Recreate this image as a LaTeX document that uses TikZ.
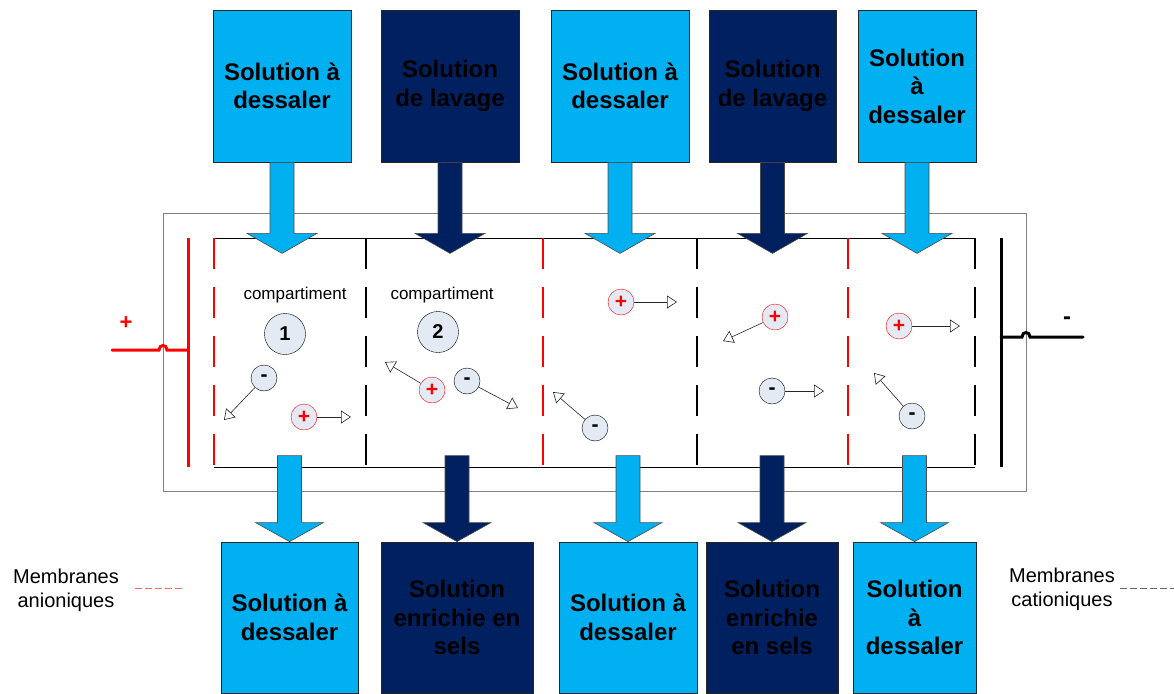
\documentclass[tikz,border=0pt]{standalone}
\usepackage{fontspec}
\setmainfont{Liberation Sans}
\usetikzlibrary{arrows.meta}
\definecolor{clair}{HTML}{00B0F0}
\definecolor{fonce}{HTML}{002060}
\definecolor{ionfond}{HTML}{E4EAF4}
\begin{document}
\begin{tikzpicture}[x=1pt,y=-1pt,
	bac/.style={draw=black!85, line width=0.8pt, inner sep=0pt, align=center, minimum height=152pt, font=\fontsize{24}{28.5}\selectfont\bfseries},
	bas/.style={bac, minimum height=151pt},
	fleche/.style={draw=black!70, line width=0.6pt},
	anion/.style={circle, draw=black, fill=ionfond, minimum size=26pt, inner sep=0pt, font=\fontsize{21}{21}\selectfont\bfseries},
	cation/.style={anion, draw=red, text=red},
	numero/.style={circle, draw=black, fill=ionfond, minimum size=41pt, inner sep=0pt, font=\fontsize{20}{20}\selectfont\bfseries},
	move/.style={draw=black!85, line width=0.6pt, -{Triangle[fill=white, length=10pt, width=13pt]}},
	anionique/.style={red, line width=1.5pt, dash pattern=on 31pt off 18pt},
	cationique/.style={black, line width=1.5pt, dash pattern=on 31pt off 18pt},
	legende/.style={align=center, font=\fontsize{20}{24}\selectfont}]
	\useasboundingbox (0,0) rectangle (1174,693);
	\draw[black!50, line width=1pt] (163,213) rectangle (1026,491);
	\draw[line width=1pt] (214,238) -- (975,238) (214,467) -- (975,467);
	\draw[anionique] (214,238) -- (214,467);
	\draw[anionique] (543,238) -- (543,467);
	\draw[anionique] (848,238) -- (848,467);
	\draw[cationique] (366,238) -- (366,467);
	\draw[cationique] (697,238) -- (697,467);
	\draw[cationique] (975,238) -- (975,467);
	\draw[red, line width=3pt] (188,238) -- (188,467);
	\draw[red, line width=3pt, line cap=round] (112,350) -- (159,350) .. controls (159,344) and (167,344) .. (167,350) -- (188,350);
	\draw[line width=3pt] (1001,238) -- (1001,467);
	\draw[line width=3pt, line cap=round] (1001,337) -- (1022,337) .. controls (1022,331) and (1030,331) .. (1030,337) -- (1083,337);
	\node[red, font=\fontsize{22}{22}\selectfont\bfseries] (plus) at (126,323) {+};
	\node[font=\fontsize{24}{24}\selectfont\bfseries] (moins) at (1067,321) {-};
	\node[bac, fill=clair, minimum width=138pt] (t1) at (282,86) {Solution à\\dessaler};
	\node[bac, fill=fonce, minimum width=138pt] (t2) at (450,86) {Solution\\de lavage};
	\node[bac, fill=clair, minimum width=138pt] (t3) at (620,86) {Solution à\\dessaler};
	\node[bac, fill=fonce, minimum width=127pt] (t4) at (772.5,86) {Solution\\de lavage};
	\node[bac, fill=clair, minimum width=118pt] (t5) at (917,86) {Solution\\à\\dessaler};
	\node[bas, fill=clair, minimum width=137pt] (b1) at (289.5,617.5) {Solution à\\dessaler};
	\node[bas, fill=fonce, minimum width=152pt] (b2) at (457,617.5) {Solution\\enrichie en\\sels};
	\node[bas, fill=clair, minimum width=138pt] (b3) at (628,617.5) {Solution à\\dessaler};
	\node[bas, fill=fonce, minimum width=132pt] (b4) at (772,617.5) {Solution\\enrichie\\en sels};
	\node[bas, fill=clair, minimum width=123pt] (b5) at (914.5,617.5) {Solution\\à\\dessaler};
	\draw[fleche, fill=clair] (t1.south) ++(-12,0) -- ++(0,71) -- ++(-23,0) -- ++(35,20) -- ++(35,-20) -- ++(-23,0) -- ++(0,-71) -- cycle;
	\draw[fleche, fill=fonce] (t2.south) ++(-12,0) -- ++(0,71) -- ++(-23,0) -- ++(35,20) -- ++(35,-20) -- ++(-23,0) -- ++(0,-71) -- cycle;
	\draw[fleche, fill=clair] (t3.south) ++(-12,0) -- ++(0,71) -- ++(-23,0) -- ++(35,20) -- ++(35,-20) -- ++(-23,0) -- ++(0,-71) -- cycle;
	\draw[fleche, fill=fonce] (t4.south) ++(-12,0) -- ++(0,71) -- ++(-23,0) -- ++(35,20) -- ++(35,-20) -- ++(-23,0) -- ++(0,-71) -- cycle;
	\draw[fleche, fill=clair] (t5.south) ++(-12,0) -- ++(0,71) -- ++(-23,0) -- ++(35,20) -- ++(35,-20) -- ++(-23,0) -- ++(0,-71) -- cycle;
	\draw[fleche, fill=clair] (b1.north) -- ++(-34,-19) -- ++(22,0) -- ++(0,-67) -- ++(24,0) -- ++(0,67) -- ++(22,0) -- cycle;
	\draw[fleche, fill=fonce] (b2.north) -- ++(-34,-19) -- ++(22,0) -- ++(0,-67) -- ++(24,0) -- ++(0,67) -- ++(22,0) -- cycle;
	\draw[fleche, fill=clair] (b3.north) -- ++(-34,-19) -- ++(22,0) -- ++(0,-67) -- ++(24,0) -- ++(0,67) -- ++(22,0) -- cycle;
	\draw[fleche, fill=fonce] (b4.north) -- ++(-34,-19) -- ++(22,0) -- ++(0,-67) -- ++(24,0) -- ++(0,67) -- ++(22,0) -- cycle;
	\draw[fleche, fill=clair] (b5.north) -- ++(-34,-19) -- ++(22,0) -- ++(0,-67) -- ++(24,0) -- ++(0,67) -- ++(22,0) -- cycle;
	\node[font=\fontsize{17}{17}\selectfont] (k1) at (295,295) {compartiment};
	\node[font=\fontsize{17}{17}\selectfont] (k2) at (442,295) {compartiment};
	\node[numero] (n1) at (285,334) {1};
	\node[numero] (n2) at (438,332) {2};
	\node[anion] (a1) at (264,378) {-};
	\node[cation] (c1) at (304,417) {+};
	\node[cation] (c2) at (432,390) {+};
	\node[anion] (a2) at (467,381) {-};
	\node[cation] (c3) at (621,302) {+};
	\node[anion] (a3) at (595,428) {-};
	\node[cation] (c4) at (775,317) {+};
	\node[anion] (a4) at (772,391) {-};
	\node[cation] (c5) at (899,326) {+};
	\node[anion] (a5) at (912,416) {-};
	\coordinate (a1e) at (224,420);
	\coordinate (c1e) at (351,417);
	\coordinate (c2e) at (385,362);
	\coordinate (a2e) at (518,408);
	\coordinate (c3e) at (677,302);
	\coordinate (a3e) at (553,392);
	\coordinate (c4e) at (723,341);
	\coordinate (a4e) at (824,391);
	\coordinate (c5e) at (960,326);
	\coordinate (a5e) at (874,373);
	\draw[move] (a1) -- (a1e);
	\draw[move] (c1) -- (c1e);
	\draw[move] (c2) -- (c2e);
	\draw[move] (a2) -- (a2e);
	\draw[move] (c3) -- (c3e);
	\draw[move] (a3) -- (a3e);
	\draw[move] (c4) -- (c4e);
	\draw[move] (a4) -- (a4e);
	\draw[move] (c5) -- (c5e);
	\draw[move] (a5) -- (a5e);
	\node[legende] (la) at (66,590) {Membranes\\anioniques};
	\node[legende] (lc) at (1062,589) {Membranes\\cationiques};
	\draw[red!60, line width=1pt, dash pattern=on 7pt off 3pt] (135,588) -- (185,588);
	\draw[black!60, line width=1pt, dash pattern=on 7pt off 3pt] (1120,588) -- (1174,588);
\end{tikzpicture}
\end{document}
